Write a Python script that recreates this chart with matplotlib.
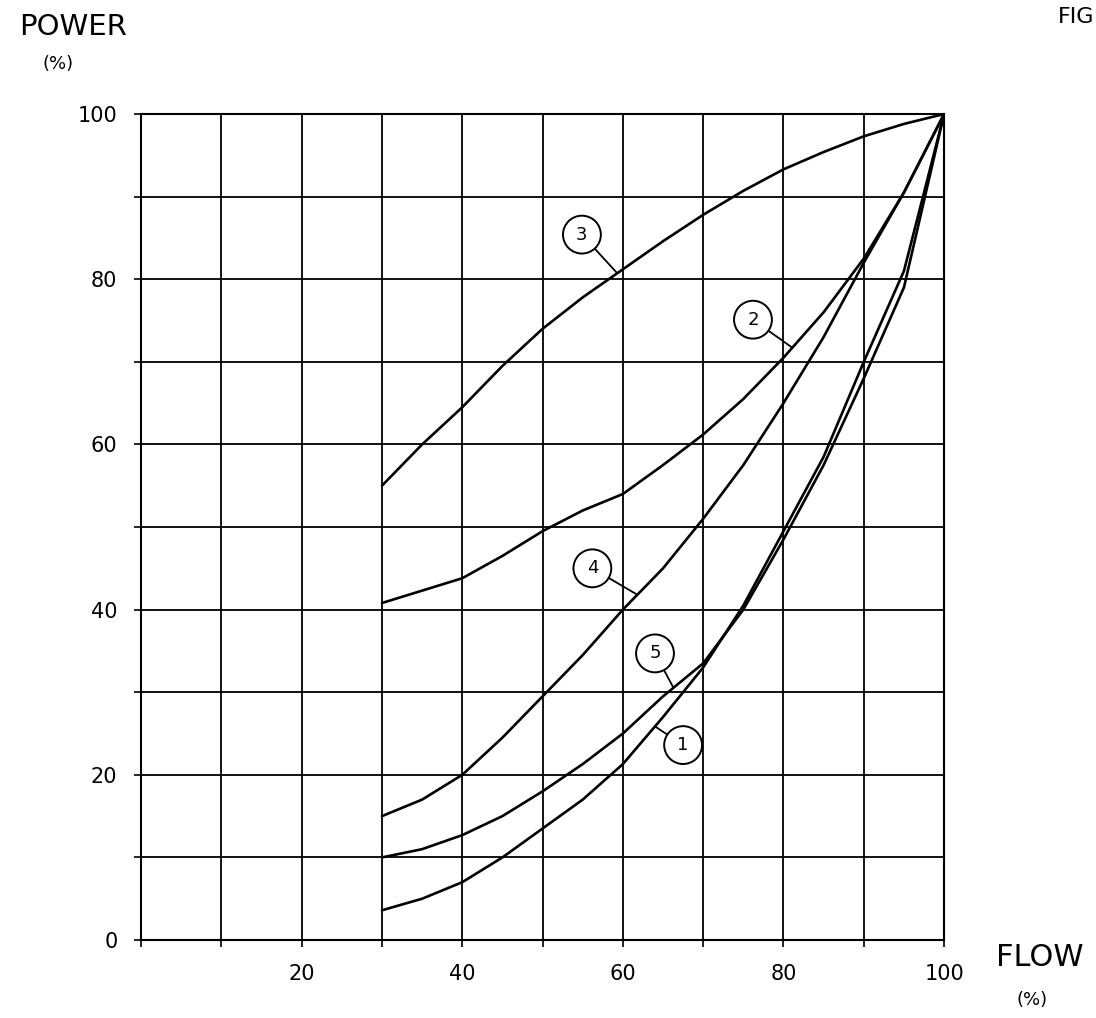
import matplotlib
matplotlib.use('Agg')
import matplotlib.pyplot as plt
import numpy as np

# values (flow % -> power %)
flow = [30, 35, 40, 45, 50, 55, 60, 65, 70, 75, 80, 85, 90, 95, 100]
power_1 = [3.6, 5.0, 7.0, 10.0, 13.5, 17.0, 21.3, 27.0, 33.0, 40.5, 49.5, 58.5, 70.0, 81.0, 100]
power_2 = [40.8, 42.3, 43.8, 46.5, 49.5, 52.0, 54.0, 57.5, 61.2, 65.5, 70.5, 76.0, 82.5, 90.5, 100]
power_3 = [55.0, 60.0, 64.5, 69.5, 74.0, 77.8, 81.2, 84.6, 87.8, 90.7, 93.3, 95.4, 97.3, 98.8, 100]
power_4 = [15.0, 17.0, 20.0, 24.5, 29.5, 34.5, 40.0, 45.0, 51.0, 57.5, 65.0, 73.0, 82.0, 90.5, 100]
power_5 = [10.0, 11.0, 12.7, 15.0, 18.0, 21.3, 25.0, 29.5, 33.5, 40.0, 48.5, 57.5, 68.0, 79.0, 100]

curve_names = ['1', '2', '3', '4', '5']
x_tick_labels = ['20', '40', '60', '80', '100']
y_tick_labels = ['0', '20', '40', '60', '80', '100']

curves = [power_1, power_2, power_3, power_4, power_5]

fig = plt.figure(figsize=(10.96, 10.18), dpi=100)
ax = fig.add_axes([0.1287, 0.0766, 0.7327, 0.8114])

for p in curves:
    ax.plot(flow, p, color='black', lw=1.9, solid_capstyle='round',
            solid_joinstyle='round')

# numbered circles: (label position, flow where the leader meets the curve)
callouts = {
    '3': ((54.9, 85.4), 59.3),
    '2': ((76.2, 75.1), 81.1),
    '4': ((56.2, 45.0), 61.8),
    '5': ((64.0, 34.7), 66.3),
    '1': ((67.5, 23.6), 64.0),
}
for name, p in zip(curve_names, curves):
    (tx, ty), fx = callouts[name]
    fy = np.interp(fx, flow, p)
    ax.annotate(name, xy=(fx, fy), xytext=(tx, ty), fontsize=13,
                ha='center', va='center',
                bbox=dict(boxstyle='circle,pad=0.55', fc='white', ec='black', lw=1.4),
                arrowprops=dict(arrowstyle='-', color='black', lw=1.3,
                                shrinkA=0, shrinkB=0))

ax.set_xlim(0, 100)
ax.set_ylim(0, 100)
ticks = np.arange(0, 101, 10)
ax.set_xticks(ticks)
ax.set_yticks(ticks)
ax.set_xticklabels([str(v) if str(v) in x_tick_labels else '' for v in ticks])
ax.set_yticklabels([str(v) if str(v) in y_tick_labels else '' for v in ticks])
ax.tick_params(axis='both', direction='out', length=5, width=1.2, labelsize=15)
ax.tick_params(axis='x', pad=12)
ax.tick_params(axis='y', pad=12)
ax.grid(True, color='black', lw=1.3)
for s in ax.spines.values():
    s.set_linewidth(1.5)

fig.text(73 / 1096, 1 - 27 / 1018, 'POWER', fontsize=21, ha='center', va='center')
fig.text(58 / 1096, 1 - 64 / 1018, '(%)', fontsize=13, ha='center', va='center')
fig.text(1040 / 1096, 1 - 957 / 1018, 'FLOW', fontsize=22, ha='center', va='center')
fig.text(1032 / 1096, 1 - 1000 / 1018, '(%)', fontsize=13, ha='center', va='center')
fig.text(1058 / 1096, 1 - 17 / 1018, 'FIG', fontsize=16, ha='left', va='center')

fig.savefig('out.png', dpi=100, facecolor='white')
